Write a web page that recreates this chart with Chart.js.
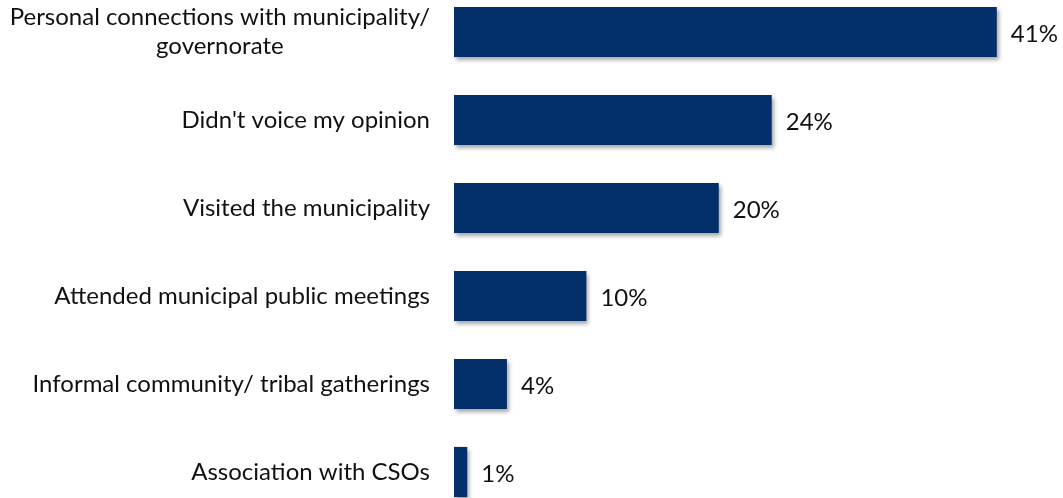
<!DOCTYPE html>
<html>
<head>
<meta charset="utf-8">
<script src="https://cdn.jsdelivr.net/npm/chart.js@4"></script>
<style>
    html, body { margin: 0; padding: 0; background: #fff; overflow: hidden; }
    body { width: 1063px; height: 498px; position: relative; }
    .chart-wrap { position: absolute; left: 0; top: -12px; width: 1063px; height: 528px; }
</style>
</head>
<body>
<div class="chart-wrap"><canvas id="channelsChart"></canvas></div>
<script>
// Ways respondents engaged with local authorities (% of respondents)
const categories = [
    ['Personal connections with municipality/', 'governorate'],
    ["Didn't voice my opinion"],
    ['Visited the municipality'],
    ['Attended municipal public meetings'],
    ['Informal community/ tribal gatherings'],
    ['Association with CSOs']
];
const shares = [41, 24, 20, 10, 4, 1];

const FONT = 'Lato, "Open Sans", sans-serif';
const BAR_COLOR = '#03306a';

// soft drop shadow under the bars
const barShadow = {
    id: 'barShadow',
    beforeDatasetDraw(chart) {
        const ctx = chart.ctx;
        ctx.save();
        ctx.shadowColor = 'rgba(0, 0, 0, 0.35)';
        ctx.shadowBlur = 4;
        ctx.shadowOffsetX = 2;
        ctx.shadowOffsetY = 3;
    },
    afterDatasetDraw(chart) {
        chart.ctx.restore();
    }
};

// category names left of the bars, each block centred on itself and right-aligned
const categoryLabels = {
    id: 'categoryLabels',
    afterDraw(chart) {
        const ctx = chart.ctx;
        const yScale = chart.scales.y;
        const right = chart.chartArea.left - 24;
        const lineH = 29;
        ctx.save();
        ctx.font = '24px ' + FONT;
        ctx.fillStyle = '#111';
        ctx.textAlign = 'center';
        ctx.textBaseline = 'middle';
        categories.forEach((lines, i) => {
            const widest = Math.max(...lines.map(l => ctx.measureText(l).width));
            const cx = right - widest / 2;
            const cy = yScale.getPixelForTick(i);
            const top = cy - (lines.length - 1) * lineH / 2;
            lines.forEach((l, j) => ctx.fillText(l, cx, top + j * lineH));
        });
        ctx.restore();
    }
};

// percentage at the end of each bar
const valueLabels = {
    id: 'valueLabels',
    afterDatasetsDraw(chart) {
        const ctx = chart.ctx;
        const meta = chart.getDatasetMeta(0);
        ctx.save();
        ctx.font = '24px ' + FONT;
        ctx.fillStyle = '#111';
        ctx.textAlign = 'left';
        ctx.textBaseline = 'middle';
        meta.data.forEach((bar, i) => {
            ctx.fillText(shares[i] + '%', bar.x + 14, bar.y + 2);
        });
        ctx.restore();
    }
};

new Chart(document.getElementById('channelsChart'), {
    type: 'bar',
    data: {
        labels: categories.map(c => c.join(' ')),
        datasets: [{
            data: shares,
            backgroundColor: BAR_COLOR,
            borderWidth: 0,
            categoryPercentage: 1,
            barPercentage: 0.57
        }]
    },
    options: {
        indexAxis: 'y',
        responsive: true,
        maintainAspectRatio: false,
        animation: false,
        layout: { padding: 0 },
        plugins: {
            legend: { display: false },
            tooltip: { enabled: false }
        },
        scales: {
            x: {
                min: 0,
                max: 46,
                display: false
            },
            y: {
                grid: { display: false, drawTicks: false },
                border: { display: false },
                ticks: { display: false },
                afterFit(scale) { scale.width = 454; }
            }
        }
    },
    plugins: [barShadow, categoryLabels, valueLabels]
});
</script>
</body>
</html>
